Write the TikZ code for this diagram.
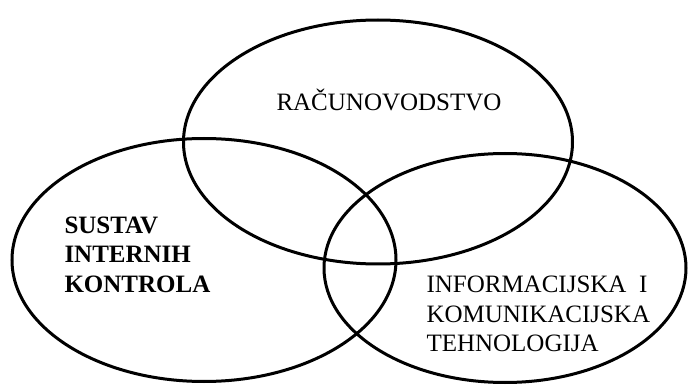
\documentclass[tikz,border=0pt]{standalone}
\usepackage{fontspec}
\setmainfont{Liberation Serif}
\usetikzlibrary{shapes.geometric}

\begin{document}
\begin{tikzpicture}
  [x=1pt,y=-1pt,line width=3pt,
   set/.style={draw,ellipse,inner sep=0pt},
   txt/.style={font=\fontsize{25}{30}\selectfont,align=left,anchor=base west,inner sep=0pt}]

  \useasboundingbox (0,0) rectangle (689,385);

  % the three sets
  \node[set,minimum width=389pt,minimum height=244pt] (rac) at (378,142) {};
  \node[set,minimum width=384pt,minimum height=243pt] (sik) at (204,260) {};
  \node[set,minimum width=362pt,minimum height=229pt] (ikt) at (505,268) {};

  % labels (base = last line)
  \node[txt] (tr) at (275,111) {RAČUNOVODSTVO};
  \node[txt,font=\fontsize{25}{29.5}\selectfont\bfseries] (ts) at (63,292) {SUSTAV\\INTERNIH\\KONTROLA};
  \node[txt] (ti) at (425,352) {INFORMACIJSKA\ \ I\\KOMUNIKACIJSKA\\TEHNOLOGIJA};
\end{tikzpicture}
\end{document}
